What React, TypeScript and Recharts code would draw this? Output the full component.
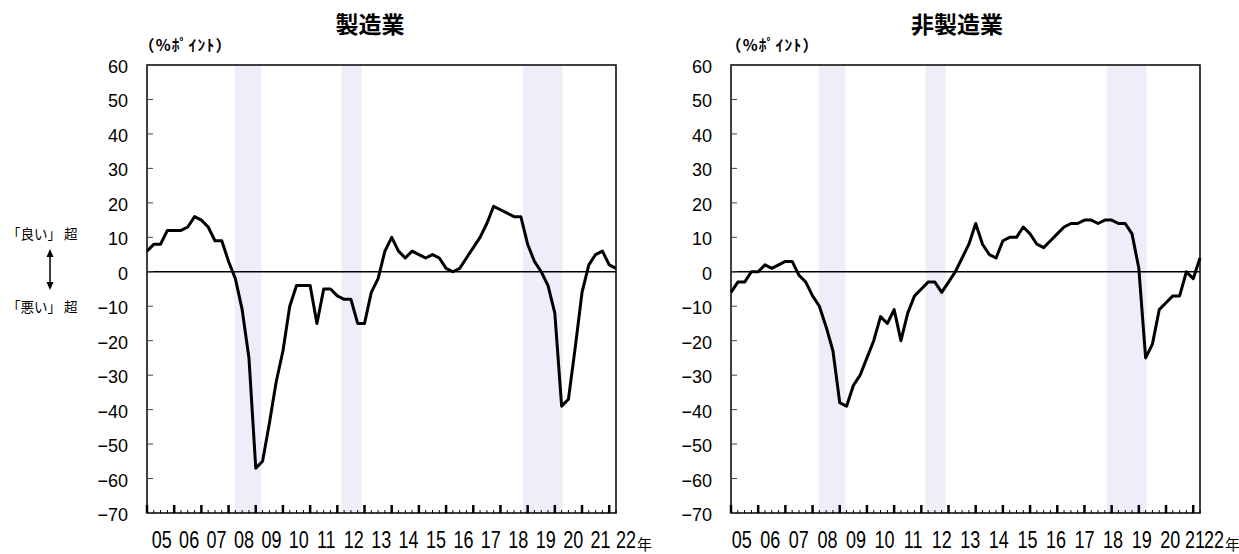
import React from "react";
import { LineChart, Line, XAxis, YAxis, ReferenceArea, ReferenceLine } from "recharts";

// quarterly DI, 2005 Q1 .. 2022 Q2
const YEAR_LABELS = ["05", "06", "07", "08", "09", "10", "11", "12", "13", "14", "15", "16", "17", "18", "19", "20", "21", "22"];
const Y_TICKS = [-70, -60, -50, -40, -30, -20, -10, 0, 10, 20, 30, 40, 50, 60];

const MANUFACTURING = [
  6, 8, 8, 12, 12, 12, 13, 16, 15, 13,
  9, 9, 3, -2, -11, -25, -57, -55, -44, -32,
  -23, -10, -4, -4, -4, -15, -5, -5, -7, -8,
  -8, -15, -15, -6, -2, 6, 10, 6, 4, 6,
  5, 4, 5, 4, 1, 0, 1, 4, 7, 10,
  14, 19, 18, 17, 16, 16, 8, 3, 0, -4,
  -12, -39, -37, -22, -6, 2, 5, 6, 2, 1,
];

const NON_MANUFACTURING = [
  -6, -3, -3, 0, 0, 2, 1, 2, 3, 3,
  -1, -3, -7, -10, -16, -23, -38, -39, -33, -30,
  -25, -20, -13, -15, -11, -20, -12, -7, -5, -3,
  -3, -6, -3, 0, 4, 8, 14, 8, 5, 4,
  9, 10, 10, 13, 11, 8, 7, 9, 11, 13,
  14, 14, 15, 15, 14, 15, 15, 14, 14, 11,
  1, -25, -21, -11, -9, -7, -7, 0, -2, 4,
];

// recession bands in quarter-index units
const RECESSIONS: [number, number][] = [
  [12.9, 16.85],
  [28.6, 31.55],
  [55.3, 61.15],
];

const QUARTER_TICKS = MANUFACTURING.map((_, i) => i);
const LAST_Q = MANUFACTURING.length - 1;

const W = 655;
const H = 554;
const MARGIN = { top: 65, right: 39, bottom: 11, left: 87 };
const NUM_FONT = "'Liberation Sans', Arial, sans-serif";
const JP_FONT = "'Noto Sans CJK JP', sans-serif";
const SHADE = "#eeeefb";

const toRows = (values: number[]) => values.map((v, q) => ({ q, v }));

interface LabelLayout {
  first: number; // centre of "05" label, chart coords
  gap: number;
  last: number; // centre of "22" label
}

// tall, narrow year digits
function YearText({ cx, y, children }: { cx: number; y: number; children: React.ReactNode }) {
  return (
    <text
      transform={`translate(${cx},${y}) scale(0.9,1.22)`}
      textAnchor="middle"
      fontSize={20}
      fontFamily={NUM_FONT}
      fill="#000"
    >
      {children}
    </text>
  );
}

function makeXTick(layout: LabelLayout) {
  return (props: any) => {
    const { x, y, payload } = props;
    const q = payload.value as number;
    const major = q % 4 === 0;
    const k = (q - 2) / 4;
    const ly = y + 35;
    // keep "21" clear of the squeezed "22"
    const labelX = (i: number) => Math.min(layout.first + i * layout.gap, layout.last - 19 * (YEAR_LABELS.length - 1 - i));
    return (
      <g>
        <line
          x1={x}
          x2={x}
          y1={y}
          y2={y - (major ? 8 : 3)}
          stroke="#000"
          strokeWidth={major ? 2.5 : 1}
        />
        {q % 4 === 2 && k < YEAR_LABELS.length - 1 && (
          <YearText cx={labelX(k)} y={ly}>
            {YEAR_LABELS[k]}
          </YearText>
        )}
        {q === LAST_Q && (
          <>
            <YearText cx={layout.last} y={ly}>
              {YEAR_LABELS[YEAR_LABELS.length - 1]}
            </YearText>
            <text x={layout.last + 11} y={ly + 2} fontSize={15} fontFamily={JP_FONT} fill="#000">
              年
            </text>
          </>
        )}
      </g>
    );
  };
}

function YTick(props: any) {
  const { x, y, payload } = props;
  const v = payload.value as number;
  return (
    <g>
      <line x1={x} x2={x + 6} y1={y} y2={y} stroke="#444" strokeWidth={1} />
      <text x={x - 19} y={y + 8} textAnchor="end" fontSize={18} fontFamily={NUM_FONT} fill="#000">
        {v < 0 ? `\u2212${-v}` : v}
      </text>
    </g>
  );
}

interface PanelProps {
  values: number[];
  labels: LabelLayout;
}

function Panel({ values, labels }: PanelProps) {
  return (
    <LineChart width={W} height={H} data={toRows(values)} margin={MARGIN}>
      {RECESSIONS.map(([a, b], i) => (
        <ReferenceArea key={i} x1={a} x2={b} y1={-70} y2={60} fill={SHADE} fillOpacity={1} stroke="none" />
      ))}
      <XAxis
        type="number"
        dataKey="q"
        domain={[0, LAST_Q]}
        ticks={QUARTER_TICKS}
        interval={0}
        height={30}
        tickSize={0}
        tickMargin={0}
        tickLine={false}
        axisLine={false}
        tick={makeXTick(labels)}
      />
      <YAxis
        type="number"
        domain={[-70, 60]}
        ticks={Y_TICKS}
        interval={0}
        width={60}
        tickSize={0}
        tickMargin={0}
        tickLine={false}
        axisLine={false}
        tick={YTick}
      />
      <ReferenceLine y={0} stroke="#000" strokeWidth={1.5} />
      <ReferenceArea x1={0} x2={LAST_Q} y1={-70} y2={60} fill="none" stroke="#000" strokeWidth={1.5} />
      <Line
        type="linear"
        dataKey="v"
        stroke="#000"
        strokeWidth={3}
        strokeLinejoin="round"
        dot={false}
        isAnimationActive={false}
      />
    </LineChart>
  );
}

function Arrow() {
  const x = 50;
  return (
    <g>
      <line x1={x} x2={x} y1={255} y2={284} stroke="#000" strokeWidth={1.5} />
      <polygon points={`${x - 3.5},257 ${x + 3.5},257 ${x},249`} fill="#000" />
      <polygon points={`${x - 3.5},282 ${x + 3.5},282 ${x},290`} fill="#000" />
    </g>
  );
}

export default function App() {
  return (
    <div style={{ position: "absolute", left: 0, top: 0, width: 1239, height: 554, background: "#fff", overflow: "hidden" }}>
      <div style={{ position: "absolute", left: 0, top: 0 }}>
        <Panel values={MANUFACTURING} labels={{ first: 161.7, gap: 27.43, last: 626 }} />
      </div>
      <div style={{ position: "absolute", left: 584, top: 0 }}>
        <Panel values={NON_MANUFACTURING} labels={{ first: 157.7, gap: 28.57, last: 630 }} />
      </div>
      <svg width={1239} height={554} style={{ position: "absolute", left: 0, top: 0, pointerEvents: "none" }}>
        <text x={370} y={33} textAnchor="middle" fontSize={23} fontWeight="bold" fontFamily={JP_FONT}>製造業</text>
        <text x={957} y={33} textAnchor="middle" fontSize={23} fontWeight="bold" fontFamily={JP_FONT}>非製造業</text>
        <text x={139} y={51} fontSize={15.5} fontWeight="bold" letterSpacing={1.2} fontFamily={JP_FONT}>（%ﾎﾟｲﾝﾄ）</text>
        <text x={726} y={51} fontSize={15.5} fontWeight="bold" letterSpacing={1.2} fontFamily={JP_FONT}>（%ﾎﾟｲﾝﾄ）</text>
        <text x={7} y={239} fontSize={13.5} fontFamily={JP_FONT}>「良い」 超</text>
        <text x={7} y={312} fontSize={13.5} fontFamily={JP_FONT}>「悪い」 超</text>
        <Arrow />
      </svg>
    </div>
  );
}
